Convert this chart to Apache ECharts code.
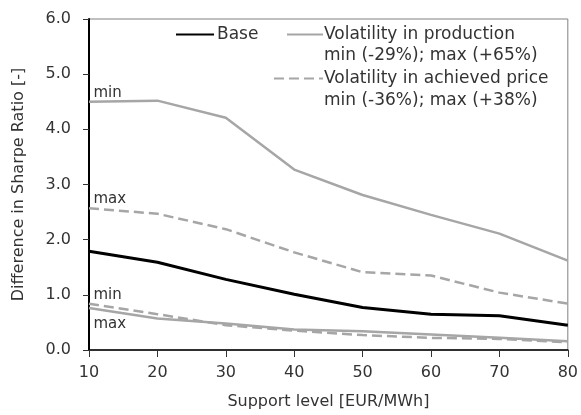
<!DOCTYPE html>
<html>
<head>
<meta charset="utf-8">
<script src="https://cdn.jsdelivr.net/npm/echarts@6/dist/echarts.min.js"></script>
<style>
  html, body { margin: 0; padding: 0; background: #fff; }
  #chart { width: 581px; height: 415px; }
</style>
</head>
<body>
<div id="chart"></div>
<script>
// support level [EUR/MWh]
const supportLevels = [10, 20, 30, 40, 50, 60, 70, 80]
const base = [1.79, 1.59, 1.28, 1.01, 0.77, 0.65, 0.62, 0.45]
const prodMin = [4.50, 4.52, 4.21, 3.27, 2.81, 2.45, 2.11, 1.62]
const prodMax = [0.76, 0.57, 0.48, 0.37, 0.34, 0.28, 0.22, 0.16]
const priceMax = [2.57, 2.47, 2.19, 1.77, 1.41, 1.35, 1.04, 0.84]
const priceMin = [0.84, 0.65, 0.45, 0.35, 0.27, 0.22, 0.20, 0.14]

const font = 'DejaVu Sans'
const textColor = '#333'
const grey = '#a6a6a6'

const pairs = arr => arr.map((v, i) => [supportLevels[i], v])

// small text tag next to the first point of a series
const tag = (text, value, dy) => ({
  symbol: 'circle',
  symbolSize: 1,
  itemStyle: { color: 'rgba(0,0,0,0)' },
  label: { show: true, position: 'right', distance: 4, offset: [0, dy], color: textColor, fontFamily: font, fontSize: 15 },
  data: [{ coord: [10, value], value: text }]
})

const legendBase = {
  padding: 0,
  itemHeight: 14,
  itemStyle: { color: 'rgba(0,0,0,0)', borderWidth: 0 },
  textStyle: { fontFamily: font, fontSize: 17, color: textColor }
}

const chart = echarts.init(document.getElementById('chart'))

chart.setOption({
  animation: false,
  textStyle: { fontFamily: font, color: textColor },
  grid: { left: 89, right: 10, top: 19, bottom: 60, show: true, borderColor: '#808080', borderWidth: 1 },
  legend: [
    Object.assign({}, legendBase, {
      left: 175, top: 26, itemWidth: 38, data: ['Base'],
      textStyle: Object.assign({}, legendBase.textStyle, { padding: [0, 0, 0, -2] })
    }),
    Object.assign({}, legendBase, {
      left: 286, top: 26, itemWidth: 36, data: ['Volatility in production'],
      textStyle: Object.assign({}, legendBase.textStyle, { padding: [0, 0, 0, -4] })
    }),
    Object.assign({}, legendBase, {
      left: 273, top: 70, itemWidth: 49, data: ['Volatility in achieved price'],
      textStyle: Object.assign({}, legendBase.textStyle, { padding: [0, 0, 0, -4] })
    })
  ],
  graphic: [
    { type: 'text', left: 324, top: 47, style: { text: 'min (-29%); max (+65%)', font: '17px "DejaVu Sans"', fill: textColor } },
    { type: 'text', left: 324, top: 92, style: { text: 'min (-36%); max (+38%)', font: '17px "DejaVu Sans"', fill: textColor } }
  ],
  xAxis: {
    type: 'value', min: 10, max: 80, interval: 10,
    name: 'Support level [EUR/MWh]', nameLocation: 'middle', nameGap: 44,
    nameTextStyle: { fontSize: 16, color: textColor },
    axisLine: { lineStyle: { color: '#000', width: 1.5 } },
    axisTick: { show: true, length: 7, lineStyle: { color: '#333' } },
    axisLabel: { fontSize: 16, color: textColor, margin: 15 },
    splitLine: { show: false }
  },
  yAxis: {
    type: 'value', min: 0, max: 6, interval: 1,
    name: 'Difference in Sharpe Ratio [-]', nameLocation: 'middle', nameGap: 62,
    nameTextStyle: { fontSize: 16, color: textColor },
    axisLine: { show: true, lineStyle: { color: '#000', width: 2 } },
    axisTick: { show: true, length: 6, lineStyle: { color: '#333' } },
    axisLabel: { fontSize: 16, color: textColor, margin: 18, formatter: v => v.toFixed(1) },
    splitLine: { show: false }
  },
  series: [
    {
      name: 'Base', type: 'line', data: pairs(base), symbol: 'none',
      lineStyle: { color: '#000', width: 3 }, itemStyle: { color: '#000' }, z: 5
    },
    {
      name: 'Volatility in production', type: 'line', data: pairs(prodMin), symbol: 'none',
      lineStyle: { color: grey, width: 2.5 }, itemStyle: { color: grey },
      markPoint: tag('min', prodMin[0], -9)
    },
    {
      name: 'Volatility in production', type: 'line', data: pairs(prodMax), symbol: 'none',
      lineStyle: { color: grey, width: 2.5 }, itemStyle: { color: grey },
      markPoint: tag('max', prodMax[0], 16)
    },
    {
      name: 'Volatility in achieved price', type: 'line', data: pairs(priceMax), symbol: 'none',
      lineStyle: { color: grey, width: 2.5, type: [10, 5] }, itemStyle: { color: grey },
      markPoint: tag('max', priceMax[0], -9)
    },
    {
      name: 'Volatility in achieved price', type: 'line', data: pairs(priceMin), symbol: 'none',
      lineStyle: { color: grey, width: 2.5, type: [10, 5] }, itemStyle: { color: grey },
      markPoint: tag('min', priceMin[0], -9)
    }
  ]
})
</script>
</body>
</html>
